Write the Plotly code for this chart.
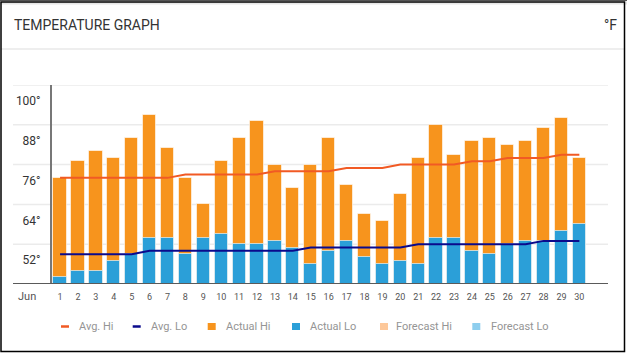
import plotly.graph_objects as go

days = list(range(1, 31))
day_labels = [str(d) for d in days]
actual_hi = [72, 77, 80, 78, 84, 91, 81, 72, 64, 77, 84, 89, 76, 69, 76,
             84, 70, 61, 59, 67, 78, 88, 79, 83, 84, 82, 83, 87, 90, 78]
actual_lo = [42, 44, 44, 47, 49, 54, 54, 49, 54, 55, 52, 52, 53, 51, 46,
             50, 53, 48, 46, 47, 46, 54, 54, 50, 49, 52, 53, 53, 56, 58]
avg_hi = [72, 72, 72, 72, 72, 72, 72, 73, 73, 73, 73, 73, 74, 74, 74,
          74, 75, 75, 75, 76, 76, 76, 76, 77, 77, 78, 78, 78, 79, 79]
avg_lo = [49, 49, 49, 49, 49, 50, 50, 50, 50, 50, 50, 50, 50, 50, 51,
          51, 51, 51, 51, 51, 52, 52, 52, 52, 52, 52, 52, 53, 53, 53]
y_ticks = [52, 64, 76, 88, 100]
y_tick_labels = ["52°", "64°", "76°", "88°", "100°"]
legend_names = ["Avg. Hi", "Avg. Lo", "Actual Hi", "Actual Lo",
                "Forecast Hi", "Forecast Lo"]

C_HI = "#F7941D"
C_LO = "#2B9FD8"
C_AVG_HI = "#F15A24"
C_AVG_LO = "#0A0A8C"
C_FC_HI = "#FDC89A"
C_FC_LO = "#8ECEEE"
legend_colors = [C_AVG_HI, C_AVG_LO, C_HI, C_LO, C_FC_HI, C_FC_LO]
legend_kinds = ["line", "line", "box", "box", "box", "box"]
legend_symbol_x = [65, 136.7, 211.7, 296, 384, 476.3]
legend_text_x = [77, 149, 224, 308, 394, 489]
LEGEND_Y = 326.5

W, H = 627, 355
ML, MR, MT, MB = 52, 19, 85, 71
PW, PH = W - ML - MR, H - MT - MB


def px(x):
    return (x - ML) / PW


def py(y):
    return (H - MB - y) / PH


fig = go.Figure()

fig.add_trace(go.Bar(x=days, y=actual_hi, name="Actual Hi", marker_color=C_HI,
                     marker_line=dict(color="rgba(255,255,255,0.6)", width=1),
                     width=0.74))
fig.add_trace(go.Bar(x=days, y=actual_lo, name="Actual Lo", marker_color=C_LO,
                     marker_line=dict(color="rgba(255,255,255,0.6)", width=1),
                     width=0.74))
fig.add_trace(go.Scatter(x=days, y=avg_hi, name="Avg. Hi", mode="lines",
                         line=dict(color=C_AVG_HI, width=2)))
fig.add_trace(go.Scatter(x=days, y=avg_lo, name="Avg. Lo", mode="lines",
                         line=dict(color=C_AVG_LO, width=2)))
fig.add_trace(go.Bar(x=[], y=[], name="Forecast Hi", marker_color=C_FC_HI))
fig.add_trace(go.Bar(x=[], y=[], name="Forecast Lo", marker_color=C_FC_LO))

shapes = []
for v in y_ticks:
    shapes.append(dict(type="line", xref="paper", yref="y", x0=px(13), x1=1,
                       y0=v, y1=v, line=dict(color="#EBEBEB", width=1.5),
                       layer="below"))
shapes.append(dict(type="line", xref="paper", yref="y", x0=px(13), x1=1,
                   y0=40, y1=40, line=dict(color="#5A5A5A", width=2),
                   layer="above"))
# card decorations
shapes.append(dict(type="line", xref="paper", yref="paper", x0=px(1), x1=px(625),
                   y0=py(49), y1=py(49), line=dict(color="#EEEEEE", width=2)))
shapes.append(dict(type="line", xref="paper", yref="paper", x0=px(0), x1=px(627),
                   y0=py(3), y1=py(3), line=dict(color="#E6E6E6", width=3)))
shapes.append(dict(type="line", xref="paper", yref="paper", x0=px(0), x1=px(627),
                   y0=py(0.5), y1=py(0.5), line=dict(color="#555555", width=1)))
shapes.append(dict(type="rect", xref="paper", yref="paper", x0=px(1), x1=px(624.5),
                   y0=py(351.5), y1=py(2), line=dict(color="#000000", width=1.5),
                   fillcolor="rgba(0,0,0,0)"))

annotations = [
    dict(text="TEMPERATURE GRAPH", xref="paper", yref="paper", x=px(12), y=py(25),
         xanchor="left", yanchor="middle", showarrow=False,
         font=dict(family="Roboto", size=14, color="#333333")),
    dict(text="°F", xref="paper", yref="paper", x=px(619), y=py(25),
         xanchor="right", yanchor="middle", showarrow=False,
         font=dict(family="Roboto", size=14, color="#333333")),
    dict(text="Jun", xref="paper", yref="paper", x=px(26.5), y=py(296),
         xanchor="center", yanchor="middle", showarrow=False,
         font=dict(family="Roboto", size=11, color="#555555")),
]

# legend (drawn manually to match spacing)
for name, col, kind, sx, tx in zip(legend_names, legend_colors, legend_kinds,
                                   legend_symbol_x, legend_text_x):
    if kind == "line":
        shapes.append(dict(type="line", xref="paper", yref="paper",
                           x0=px(sx - 4), x1=px(sx + 4),
                           y0=py(LEGEND_Y), y1=py(LEGEND_Y),
                           line=dict(color=col, width=2.5)))
    else:
        shapes.append(dict(type="rect", xref="paper", yref="paper",
                           x0=px(sx - 4), x1=px(sx + 4),
                           y0=py(LEGEND_Y + 3.5), y1=py(LEGEND_Y - 3.5),
                           line=dict(width=0), fillcolor=col))
    annotations.append(dict(text=name, xref="paper", yref="paper", x=px(tx),
                            y=py(LEGEND_Y), xanchor="left", yanchor="middle",
                            showarrow=False,
                            font=dict(family="Roboto", size=11, color="#959595")))

fig.update_layout(
    width=W, height=H,
    margin=dict(l=ML, r=MR, t=MT, b=MB),
    paper_bgcolor="white", plot_bgcolor="white",
    barmode="overlay",
    bargap=0,
    shapes=shapes,
    annotations=annotations,
    showlegend=False,
    xaxis=dict(range=[0.55, 31.6], tickmode="array", tickvals=days,
               ticktext=day_labels, showgrid=False, zeroline=False,
               showline=False, ticks="", ticklabelstandoff=6,
               tickfont=dict(family="Roboto", size=9,
                             color="#555555"), fixedrange=True),
    yaxis=dict(range=[40, 100], tickmode="array", tickvals=y_ticks,
               ticktext=y_tick_labels, showgrid=False, zeroline=False,
               showline=True, linecolor="#777777", linewidth=2, ticks="",
               ticklabelshift=16, ticklabelstandoff=7,
               tickfont=dict(family="Roboto", size=12, color="#333333"),
               fixedrange=True),
    font=dict(family="Roboto"),
)

fig.write_html("out.html", config={"displayModeBar": False},
               post_script="document.body.style.margin='0px';")
